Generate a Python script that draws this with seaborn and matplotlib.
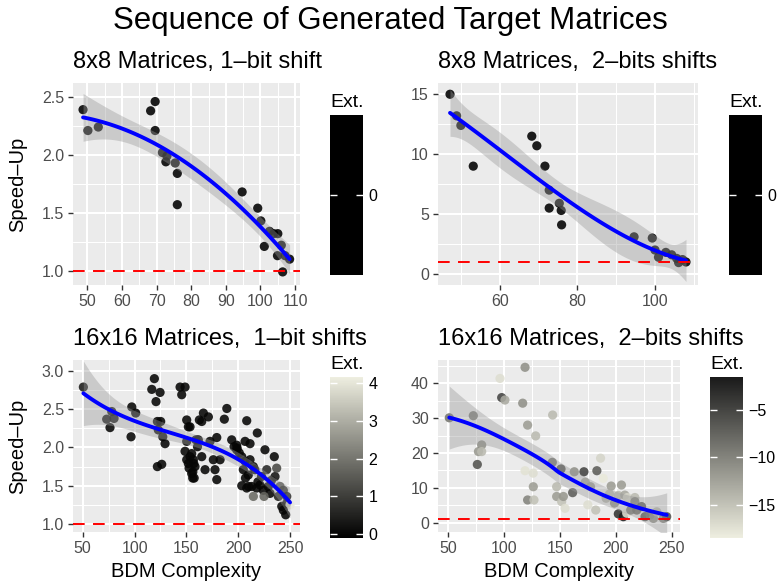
import numpy as np
import pandas as pd
import matplotlib
matplotlib.use("Agg")
import matplotlib.pyplot as plt
import seaborn as sns
from matplotlib.colors import LinearSegmentedColormap, ListedColormap, Normalize
from matplotlib.cm import ScalarMappable
from matplotlib.ticker import MultipleLocator

# 8x8, 1-bit shift
x1 = [48.8, 50.2, 53.2, 68.3, 69.6, 69.6, 71.7, 73.0, 72.7, 75.4, 76.0, 76.0,
      94.7, 99.2, 100.1, 101.1, 102.6, 103.8, 105.0, 104.9, 106.0, 106.4, 107.1, 108.4]
y1 = [2.39, 2.21, 2.24, 2.38, 2.46, 2.21, 2.02, 1.99, 1.94, 1.93, 1.84, 1.57,
      1.68, 1.54, 1.43, 1.21, 1.34, 1.32, 1.32, 1.13, 1.22, 0.99, 1.13, 1.10]
e1 = [0] * len(x1)

# 8x8, 2-bits shifts
x2 = [47.1, 48.8, 49.9, 53.1, 68.2, 69.5, 71.6, 72.7, 72.7, 75.3, 75.8, 75.9,
      94.6, 99.3, 100.0, 100.9, 102.8, 104.3, 105.6, 106.1, 107.1, 108.0]
y2 = [15.0, 13.2, 12.4, 9.0, 11.5, 10.7, 9.0, 7.0, 5.5, 5.9, 5.3, 4.1,
      3.1, 3.0, 2.0, 1.4, 1.8, 1.6, 1.3, 0.95, 1.2, 1.0]
e2 = [0] * len(x2)

# 16x16, 1-bit shifts
x3 = [50.6, 73.1, 76.3, 78.0, 80.2, 96.6, 97.3, 101.1, 116.6, 119.1, 120.7, 124.6,
      122.0, 125.2, 122.9, 127.2, 129.4, 122.0, 126.2, 143.9, 148.7, 145.5, 150.3, 151.9,
      153.5, 150.3, 148.7, 155.1, 150.3, 157.1, 152.6, 156.2, 157.5, 159.2, 160.7, 162.5,
      166.4, 171.2, 164.8, 189.0, 186.6, 208.2, 218.4, 179.3, 161.5, 172.8, 193.7, 198.5,
      206.6, 211.4, 225.8, 234.8, 153.5, 156.7, 151.9, 158.3, 155.1, 156.1, 164.8, 168.0,
      176.0, 177.6, 179.3, 182.5, 198.5, 203.4, 206.6, 211.4, 214.6, 204.9, 209.7, 203.4,
      208.2, 213.0, 217.8, 221.0, 224.2, 229.0, 230.7, 214.6, 224.9, 227.5, 235.5, 237.1,
      240.3, 243.5, 238.7, 246.8, 242.0, 246.8, 250.0, 243.5, 245.8, 196.0, 199.0, 216.0,
      210.0, 207.0, 219.0, 222.5, 232.0, 201.0]
y3 = [2.79, 2.37, 2.26, 2.47, 2.38, 2.14, 2.53, 2.45, 2.76, 2.90, 2.60, 2.72,
      2.34, 2.34, 2.23, 2.14, 2.05, 1.75, 1.78, 2.79, 2.79, 2.69, 2.36, 2.27,
      2.27, 2.08, 1.95, 1.92, 1.84, 1.79, 1.73, 1.68, 1.60, 2.10, 2.01, 2.36,
      2.45, 2.40, 2.34, 2.51, 2.37, 2.35, 2.19, 2.13, 2.10, 2.08, 2.10, 2.03,
      2.08, 2.05, 1.97, 1.88, 1.88, 1.84, 1.79, 1.75, 1.66, 1.60, 1.88, 1.71,
      1.84, 1.71, 1.58, 1.84, 1.97, 1.88, 1.82, 1.84, 1.75, 1.71, 1.64, 1.50,
      1.47, 1.49, 1.47, 1.51, 1.44, 1.49, 1.40, 1.36, 1.36, 1.71, 1.62, 1.73,
      1.49, 1.44, 1.36, 1.36, 1.23, 1.27, 1.25, 1.18, 1.12, 2.01, 1.99, 1.71,
      1.49, 1.60, 1.55, 1.62, 1.57, 1.93]
e3 = [0.4, 0.3, 0, 0.3, 0.3, 0, 0, 0, 0, 0, 0, 0,
      0, 0, 0, 0, 0, 0, 0, 0, 0, 0, 0, 0,
      0, 0, 0, 0, 0, 0, 0, 0, 0, 0, 0, 0,
      0, 0, 0, 0, 0, 0, 0, 0, 0, 0, 0, 0,
      0, 0, 0, 0, 0, 0, 0, 0, 0, 0, 0, 0,
      0, 0, 0, 0, 0, 0, 0, 0, 0, 0, 0, 0,
      0, 0, 0, 0, 0, 0, 0, 1.8, 1.7, 0.6, 0.3, 1.2,
      1.4, 0.8, 0.5, 0.3, 0, 0.2, 4.06, 0, 0, 0, 0, 0,
      0, 0, 0, 0, 0.4, 0]

# 16x16, 2-bits shifts
x4 = [50.9, 72.4, 76.0, 77.0, 79.9, 79.9, 96.3, 97.8, 100.7, 118.7, 116.6, 121.0,
      128.2, 118.7, 121.0, 126.1, 126.7, 126.0, 143.4, 143.1, 150.9, 147.0, 147.0, 151.5,
      154.5, 153.0, 162.8, 161.3, 171.4, 172.6, 177.3, 174.9, 183.0, 186.3, 188.7, 195.8,
      194.3, 182.0, 202.2, 205.0, 208.0, 210.3, 217.0, 217.0, 202.2, 206.7, 209.7, 213.3,
      218.7, 226.1, 230.6, 233.6, 223.0, 242.5, 245.5, 236.6, 191.3, 198.8]
y4 = [30.1, 30.7, 16.7, 20.4, 22.3, 20.4, 41.4, 35.9, 35.2, 44.6, 34.3, 28.0,
      24.9, 14.9, 6.5, 10.3, 6.5, 14.2, 30.9, 17.3, 15.4, 10.3, 7.5, 6.0,
      4.1, 7.5, 14.6, 8.6, 14.6, 11.6, 10.3, 5.1, 14.9, 18.5, 12.7, 10.5,
      8.2, 3.6, 7.8, 10.8, 7.9, 7.2, 7.2, 6.0, 2.5, 1.7, 2.7, 3.6,
      3.6, 1.7, 2.2, 1.2, 4.6, 1.2, 1.7, 3.1, 7.0, 5.6]
e4 = [-8.9, -9.5, -6.1, -11.6, -11.0, -14.4, -17.2, -5.0, -13.0, -11.0, -11.0, -12.0,
      -14.4, -17.5, -10.0, -12.0, -15.0, -17.2, -14.4, -9.0, -6.1, -14.4, -12.0, -15.0,
      -17.2, -11.6, -11.0, -7.0, -5.0, -13.0, -12.0, -17.2, -7.0, -16.5, -18.1, -12.0,
      -14.4, -15.0, -14.4, -12.0, -13.0, -16.5, -14.4, -10.0, -3.3, -2.0, -17.2, -9.0,
      -8.0, -6.1, -9.0, -11.0, -7.0, -10.0, -6.1, -14.4, -14.0, -11.0]

titles = ["8x8 Matrices, 1\u2013bit shift", "8x8 Matrices,  2\u2013bits shifts",
          "16x16 Matrices,  1\u2013bit shifts", "16x16 Matrices,  2\u2013bits shifts"]

sns.set_theme(style="darkgrid", rc={"axes.facecolor": "#EBEBEB", "grid.color": "white",
                                    "text.color": "black", "axes.labelcolor": "black"})
plt.rcParams["font.family"] = ["Liberation Sans", "DejaVu Sans"]

W, H = 781, 585
fig = plt.figure(figsize=(W / 100, H / 100), dpi=100)


def box(l, t, r, b):
    return [l / W, 1 - b / H, (r - l) / W, (b - t) / H]


def poly_rows(x, x0, order):
    # global polynomial smoother rows
    mu, sd = x.mean(), x.std()
    X = np.vander((x - mu) / sd, order + 1)
    G = np.vander((x0 - mu) / sd, order + 1)
    return G @ np.linalg.pinv(X)


def loess_rows(x, x0, span):
    # local quadratic fit with tricube weights
    n = len(x)
    q = min(int(np.floor(span * n)), n)
    rows = []
    for p in x0:
        d = np.abs(x - p)
        h = np.sort(d)[q - 1] * max(1.0, span)
        w = np.clip(1 - (d / h) ** 3, 0, None) ** 3
        X = np.column_stack([np.ones(n), x - p, (x - p) ** 2])
        XtW = X.T * w
        rows.append(np.linalg.solve(XtW @ X, XtW)[0])
    return np.array(rows)


def smooth(x, y, method, n=100, t=2.0):
    x = np.asarray(x, float)
    y = np.asarray(y, float)
    kind, arg = method
    rows = (lambda a: poly_rows(x, a, arg)) if kind == "poly" else (lambda a: loess_rows(x, a, arg))
    R = np.eye(len(x)) - rows(x)
    res = R @ y
    s2 = res @ res / np.trace(R.T @ R)
    grid = np.linspace(x.min(), x.max(), n)
    G = rows(grid)
    fit = G @ y
    se = np.sqrt(s2 * (G ** 2).sum(axis=1))
    return grid, fit, fit - t * se, fit + t * se


gray_cmap = LinearSegmentedColormap.from_list("ext", ["#000000", "#EEEEE0"])
rev_cmap = LinearSegmentedColormap.from_list("ext_r", ["#EEEEE0", "#1A1A1A"])


def panel(pos, cpos, x, y, ext, cmap, title, xstep, ystep, xlim, ylim, method,
          cticks, xlabel=False, ylabel=False):
    ax = fig.add_axes(box(*pos))
    cax = fig.add_axes(box(*cpos))
    ext = np.asarray(ext, float)
    lo, hi = ext.min(), ext.max()
    if lo == hi:
        cmap = ListedColormap(["black"])
        norm = Normalize(lo - 1, hi + 1)
    else:
        pad = (hi - lo) / 38
        norm = Normalize(lo - pad, hi + pad)

    df = pd.DataFrame({"x": x, "y": y, "ext": ext})
    sns.scatterplot(data=df, x="x", y="y", hue="ext", palette=cmap, hue_norm=norm,
                    s=44, alpha=0.88, edgecolor="none", legend=False, ax=ax, zorder=2)
    g, f, l, u = smooth(x, y, method)
    ax.fill_between(g, l, u, color="#999999", alpha=0.4, lw=0, zorder=3)
    sns.lineplot(x=g, y=f, color="#0000FF", lw=2.8, ax=ax, zorder=4)
    ax.axhline(1, color="#FF0000", lw=1.4, ls=(0, (6, 4.3)), zorder=5)

    ax.set_xlim(*xlim)
    ax.set_ylim(*ylim)
    ax.xaxis.set_major_locator(MultipleLocator(xstep))
    ax.xaxis.set_minor_locator(MultipleLocator(xstep / 2))
    ax.yaxis.set_major_locator(MultipleLocator(ystep))
    ax.yaxis.set_minor_locator(MultipleLocator(ystep / 2))
    ax.grid(which="major", color="white", lw=1.5)
    ax.grid(which="minor", color="white", lw=0.75)
    ax.tick_params(which="major", length=3.5, width=1, color="#333333",
                   labelsize=11.5, labelcolor="#4D4D4D", pad=3, bottom=True, left=True)
    ax.tick_params(which="minor", length=0)
    for s in ax.spines.values():
        s.set_visible(False)
    ax.set_title(title, loc="left", fontsize=17, pad=11)
    ax.set_xlabel("BDM Complexity" if xlabel else "", fontsize=14.5)
    ax.xaxis.set_label_coords(0.5, -0.176)
    ax.set_ylabel("Speed\u2013Up" if ylabel else "", fontsize=14.5)
    ax.yaxis.set_label_coords(-0.204, 0.5)

    sm = ScalarMappable(norm=norm, cmap=cmap)
    cb = fig.colorbar(sm, cax=cax, ticks=cticks)
    cb.outline.set_visible(False)
    cax.grid(False)
    cax.set_axisbelow(False)
    cax.tick_params(which="major", direction="in", length=5, width=1, color="white",
                    labelcolor="black", labelsize=11.5, pad=4,
                    left=True, right=True, labelleft=False, labelright=True)
    cax.tick_params(which="minor", length=0)
    cax.set_title("Ext.", loc="left", fontsize=14, pad=5.5)
    return ax


panel((73, 83, 300, 285), (330, 115, 363, 275), x1, y1, e1, gray_cmap, titles[0],
      10, 0.5, (45.9, 111.4), (0.877, 2.62), ("poly", 2), [0], ylabel=True)
panel((438, 83, 698, 285), (729, 115, 762, 275), x2, y2, e2, gray_cmap, titles[1],
      20, 5, (44.0, 111.1), (-0.92, 15.94), ("poly", 3), [0])
panel((73, 360, 300, 532), (330, 377, 363, 538), x3, y3, e3, gray_cmap, titles[2],
      50, 0.5, (40.6, 259.6), (0.895, 3.144), ("poly", 3), [0, 1, 2, 3, 4],
      xlabel=True, ylabel=True)
panel((438, 360, 680, 532), (710, 377, 743, 538), x4, y4, e4, rev_cmap, titles[3],
      50, 10, (40.8, 257.4), (-2.7, 46.7), ("loess", 1.0), [-15, -10, -5], xlabel=True)

fig.text(0.5, 1 - 29 / H, "Sequence of Generated Target Matrices", ha="center",
         va="baseline", fontsize=22.5)

fig.savefig("out.png", dpi=100)
